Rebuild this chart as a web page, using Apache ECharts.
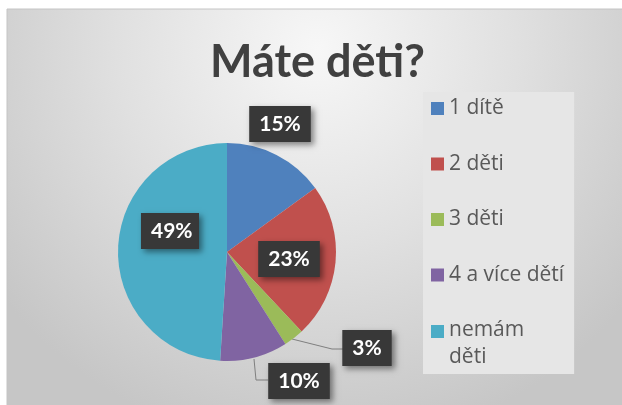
<!DOCTYPE html>
<html>
<head>
<meta charset="utf-8">
<script src="https://cdn.jsdelivr.net/npm/echarts@6/dist/echarts.min.js"></script>
<style>
html, body { margin: 0; padding: 0; background: #fff; }
#chart { width: 622px; height: 405px; }
</style>
</head>
<body>
<div id="chart"></div>
<script>
// data
var categories = ['1 dítě', '2 děti', '3 děti', '4 a více dětí', 'nemám děti'];
var shares = [15, 23, 3, 10, 49];
var colors = ['#4F81BD', '#C0504D', '#9BBB59', '#8064A2', '#4BACC6'];
// label anchor spots (box centres)
var labelSpots = [[280, 124], [289, 259], [367, 348], [299, 381], [170, 231]];

var chart = echarts.init(document.getElementById('chart'));

var pieData = [];
for (var i = 0; i < categories.length; i++) {
	pieData.push({
		name: categories[i],
		value: shares[i],
		itemStyle: { color: colors[i] },
		labelLine: { show: i == 2 || i == 3 }
	});
}

var option = {
	animation: false,
	backgroundColor: '#ffffff',
	graphic: [{
		type: 'rect',
		z: -100,
		shape: { x: 7, y: 9, width: 620, height: 400 },
		style: {
			fill: {
				type: 'radial', x: 0.5, y: 0.1, r: 1.0,
				colorStops: [
					{ offset: 0, color: '#f7f7f7' },
					{ offset: 0.5, color: '#e0e0e0' },
					{ offset: 1, color: '#c6c6c6' }
				]
			},
			stroke: '#c4c4c4',
			lineWidth: 1
		}
	}],
	title: {
		text: 'Máte děti?',
		left: 205,
		top: 35,
		textStyle: {
			fontFamily: 'Lato',
			fontWeight: 'bold',
			fontSize: 45,
			color: '#404040'
		}
	},
	legend: {
		orient: 'vertical',
		left: 423,
		top: 92,
		padding: [6, 10, 6, 8],
		backgroundColor: '#e6e6e6',
		itemWidth: 13,
		itemHeight: 13,
		itemGap: 34.5,
		icon: 'rect',
		data: categories,
		formatter: function(name) {
			if (name == 'nemám děti') {
				return '{a|nemám}\n{b|děti}';
			}
			return name;
		},
		textStyle: {
			fontFamily: 'Open Sans',
			fontSize: 21,
			color: '#595959',
			rich: {
				a: { fontFamily: 'Open Sans', fontSize: 21, color: '#595959', lineHeight: 52 },
				b: { fontFamily: 'Open Sans', fontSize: 21, color: '#595959', lineHeight: 2 }
			}
		}
	},
	series: [{
		type: 'pie',
		center: [227, 252],
		radius: 109,
		startAngle: 90,
		clockwise: true,
		data: pieData,
		label: {
			show: true,
			position: 'outside',
			overflow: 'none',
			formatter: '{c}%',
			fontFamily: 'Lato',
			fontWeight: 'bold',
			fontSize: 21,
			color: '#ffffff',
			backgroundColor: '#383838',
			padding: [8, 10, 7, 10],
			shadowBlur: 6,
			shadowColor: 'rgba(0,0,0,0.45)',
			shadowOffsetX: 3,
			shadowOffsetY: 3
		},
		labelLine: {
			lineStyle: { color: '#7f7f7f', width: 1 }
		},
		labelLayout: function(params) {
			var idx = params.dataIndex;
			var spot = labelSpots[idx];
			var res = {
				x: spot[0] - params.labelRect.width / 2,
				y: spot[1] - params.labelRect.height / 2,
				align: 'left',
				verticalAlign: 'top'
			};
			if (idx == 2) {
				res.labelLinePoints = [[292, 339], [332, 349], [343, 349]];
			} else if (idx == 3) {
				res.labelLinePoints = [[254, 359], [256, 380], [268, 380]];
			}
			return res;
		}
	}]
};
chart.setOption(option);
</script>
</body>
</html>
